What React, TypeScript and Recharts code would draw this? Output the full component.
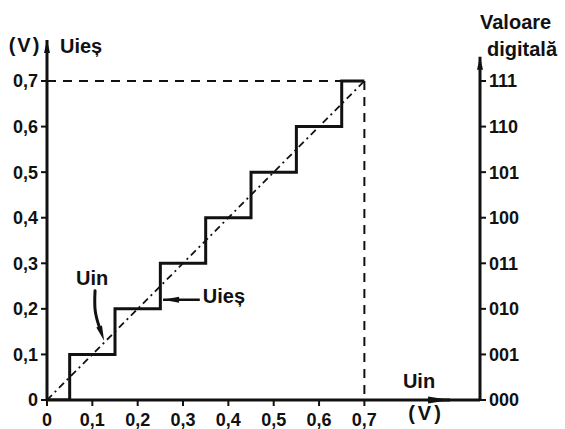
import React from "react";
import { ComposedChart, Line, XAxis, YAxis, ReferenceLine } from "recharts";

// axis ranges (in volts) – the axes run a bit past full scale
const X_MAX = 0.955;
const Y_MAX = 0.79;
const RIGHT_AXIS_TOP = 0.753;
const X_ARROW_TIP = 0.889;
const FULL_SCALE = 0.7;

const xTicks = [0, 0.1, 0.2, 0.3, 0.4, 0.5, 0.6, 0.7];
const yTicks = [0, 0.1, 0.2, 0.3, 0.4, 0.5, 0.6, 0.7];
const digitalCodes = ["000", "001", "010", "011", "100", "101", "110", "111"];

// Uieș staircase (output) – transitions at half LSB
const stepX = [0, 0.05, 0.15, 0.25, 0.35, 0.45, 0.55, 0.65, 0.7];
const stepY = [0, 0.1, 0.2, 0.3, 0.4, 0.5, 0.6, 0.7, 0.7];
// Uin ideal line
const uinX = [0, 0.7];
const uinY = [0, 0.7];

const stairData = stepX.map((x, i) => ({ x, y: stepY[i] }));
const uinData = uinX.map((x, i) => ({ x, y: uinY[i] }));

const FONT = '"Liberation Sans", Arial, sans-serif';
const INK = "#111";

const fmt = (v: number) => (v === 0 ? "0" : v.toFixed(1).replace(".", ","));
const codeFor = (v: number) => digitalCodes[Math.round(v * 10)] ?? "";

// straight line with a filled arrow head at (x2, y2)
const arrow = (w: number, len: number, half: number) => (p: any) => {
  const { x1, y1, x2, y2 } = p;
  const a = Math.atan2(y2 - y1, x2 - x1);
  const bx = x2 - len * Math.cos(a);
  const by = y2 - len * Math.sin(a);
  const nx = -Math.sin(a) * half;
  const ny = Math.cos(a) * half;
  return (
    <g>
      <line x1={x1} y1={y1} x2={x2} y2={y2} stroke={INK} strokeWidth={w} />
      <polygon points={`${x2},${y2} ${bx + nx},${by + ny} ${bx - nx},${by - ny}`} fill={INK} />
    </g>
  );
};

const plainLine = (w: number) => (p: any) => (
  <line x1={p.x1} y1={p.y1} x2={p.x2} y2={p.y2} stroke={INK} strokeWidth={w} />
);

// curved pointer from the "Uin" label down to the diagonal
const uinPointer = (p: any) => {
  const { x1, y1, x2, y2 } = p;
  const len = 15;
  const half = 3;
  // head comes in steeply from above-left
  const a = Math.atan2(1, 0.35);
  const bx = x2 - len * Math.cos(a);
  const by = y2 - len * Math.sin(a);
  const nx = -Math.sin(a) * half;
  const ny = Math.cos(a) * half;
  const d = `M${x1},${y1} C${x1 - 1},${y1 + 18} ${bx - 4},${by - 12} ${bx},${by}`;
  return (
    <g>
      <path d={d} fill="none" stroke={INK} strokeWidth={3} strokeLinecap="round" />
      <polygon points={`${x2},${y2} ${bx + nx},${by + ny} ${bx - nx},${by - ny}`} fill={INK} />
      <text x={x1 - 3} y={y1 - 13} textAnchor="middle" dominantBaseline="central" fontFamily={FONT} fontWeight="bold" fontSize={20} fill={INK}>
        Uin
      </text>
    </g>
  );
};

const uiesPointer = (p: any) => {
  const { x1, y1 } = p;
  return (
    <g>
      {arrow(2.5, 16, 3)(p)}
      <text x={x1 + 3} y={y1 - 4} dominantBaseline="central" fontFamily={FONT} fontWeight="bold" fontSize={20} fill={INK}>
        Uieș
      </text>
    </g>
  );
};

const tickStyle = { fontFamily: FONT, fontWeight: "bold", fontSize: 18, fill: INK } as any;

const titleProps = {
  fontFamily: FONT,
  fontWeight: "bold",
  fontSize: 20,
  fill: INK,
  dominantBaseline: "central",
} as any;

export default function App() {
  return (
    <div style={{ position: "absolute", left: 0, top: 0, width: 565, height: 429, background: "#fff" }}>
      <ComposedChart width={565} height={429} margin={{ top: 40, right: 0, bottom: 0, left: 0 }}>
        <XAxis
          dataKey="x"
          type="number"
          domain={[0, X_MAX]}
          ticks={xTicks}
          tickFormatter={fmt}
          axisLine={false}
          tickLine={{ stroke: INK, strokeWidth: 2 }}
          tickSize={6}
          tickMargin={7}
          height={29}
          tick={tickStyle}
          allowDataOverflow
        />
        <YAxis
          yAxisId="left"
          type="number"
          domain={[0, Y_MAX]}
          ticks={yTicks}
          tickFormatter={fmt}
          axisLine={false}
          tickLine={{ stroke: INK, strokeWidth: 2 }}
          tickSize={6}
          tickMargin={3}
          width={47}
          tick={tickStyle}
          allowDataOverflow
        />
        <YAxis
          yAxisId="right"
          orientation="right"
          type="number"
          domain={[0, Y_MAX]}
          ticks={yTicks}
          tickFormatter={codeFor}
          axisLine={false}
          tickLine={{ stroke: INK, strokeWidth: 2 }}
          tickSize={6}
          tickMargin={3}
          width={85}
          tick={tickStyle}
          allowDataOverflow
        />

        {/* axes drawn as segments so they can carry arrows */}
        <ReferenceLine yAxisId="left" ifOverflow="visible" segment={[{ x: 0, y: 0 }, { x: 0, y: Y_MAX }]} shape={arrow(3, 13, 3)} />
        <ReferenceLine yAxisId="left" ifOverflow="visible" segment={[{ x: X_MAX, y: 0 }, { x: X_MAX, y: RIGHT_AXIS_TOP }]} shape={arrow(3, 13, 3)} />
        <ReferenceLine yAxisId="left" ifOverflow="visible" segment={[{ x: 0, y: 0 }, { x: X_MAX, y: 0 }]} shape={plainLine(3)} />
        <ReferenceLine yAxisId="left" ifOverflow="visible" segment={[{ x: 0.84, y: 0 }, { x: X_ARROW_TIP, y: 0 }]} shape={arrow(3, 22, 3.5)} />

        {/* full-scale guides */}
        <ReferenceLine yAxisId="left" ifOverflow="visible" segment={[{ x: 0, y: FULL_SCALE }, { x: FULL_SCALE, y: FULL_SCALE }]} stroke={INK} strokeWidth={2} strokeDasharray="9 7" />
        <ReferenceLine yAxisId="left" ifOverflow="visible" segment={[{ x: FULL_SCALE, y: FULL_SCALE }, { x: FULL_SCALE, y: 0 }]} stroke={INK} strokeWidth={2} strokeDasharray="9 7" />

        <Line
          yAxisId="left"
          data={uinData}
          dataKey="y"
          type="linear"
          stroke={INK}
          strokeWidth={1.8}
          strokeDasharray="7 4 2 4"
          dot={false}
          activeDot={false}
          isAnimationActive={false}
        />
        <Line
          yAxisId="left"
          data={stairData}
          dataKey="y"
          type="stepAfter"
          stroke={INK}
          strokeWidth={3}
          dot={false}
          activeDot={false}
          isAnimationActive={false}
        />

        {/* annotations */}
        <ReferenceLine yAxisId="left" ifOverflow="visible" segment={[{ x: 0.106, y: 0.24 }, { x: 0.126, y: 0.13 }]} shape={uinPointer} />
        <ReferenceLine yAxisId="left" ifOverflow="visible" segment={[{ x: 0.337, y: 0.22 }, { x: 0.256, y: 0.22 }]} shape={uiesPointer} />
      </ComposedChart>

      <svg width={565} height={429} style={{ position: "absolute", left: 0, top: 0, pointerEvents: "none" }}>
        <text x={25} y={45} textAnchor="middle" letterSpacing={2} {...titleProps}>(V)</text>
        <text x={60} y={46} {...titleProps}>Uieș</text>
        <text x={480} y={22} {...titleProps}>Valoare</text>
        <text x={487} y={49} {...titleProps}>digitală</text>
        <text x={419} y={381} textAnchor="middle" {...titleProps}>Uin</text>
        <text x={426} y={413} textAnchor="middle" letterSpacing={3} {...titleProps}>(V)</text>
      </svg>
    </div>
  );
}
